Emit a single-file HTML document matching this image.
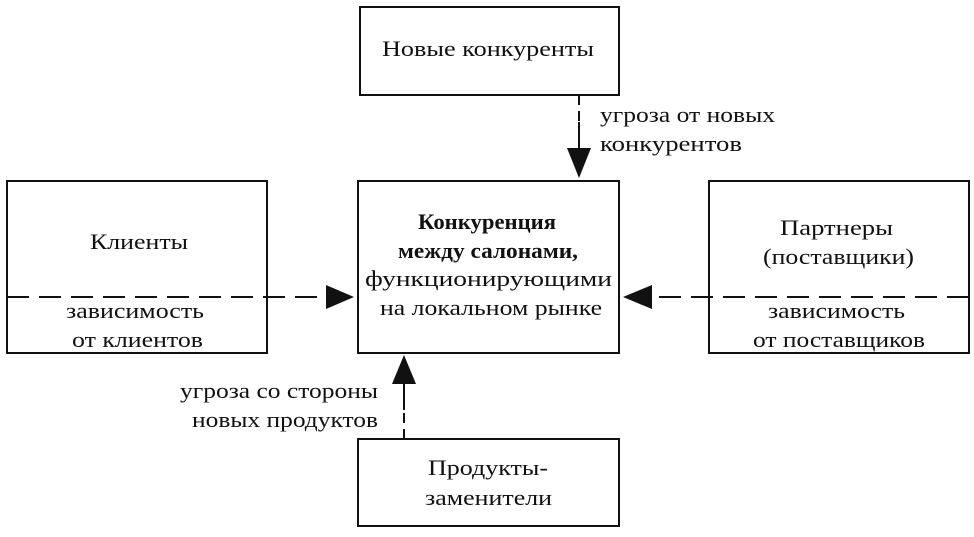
<!DOCTYPE html>
<html><head><meta charset="utf-8"><style>
html,body{margin:0;padding:0;background:#fff;}
svg text{font-family:"Liberation Serif","DejaVu Serif",serif;font-size:22px;fill:#111;}
</style></head><body>
<svg width="974" height="532" viewBox="0 0 974 532" xmlns="http://www.w3.org/2000/svg">
<g fill="none" stroke="#111" stroke-width="2">
<rect x="360" y="7" width="259" height="88"/>
<rect x="7" y="181" width="260" height="172"/>
<rect x="358" y="181" width="261" height="172"/>
<rect x="709" y="181" width="260" height="172"/>
<rect x="358" y="439" width="261" height="87"/>
<g stroke-dasharray="22,10">
<line x1="7" y1="297" x2="332" y2="297"/>
<line x1="969" y1="297" x2="648" y2="297"/>
</g>
<line x1="579" y1="95" x2="579" y2="122" stroke-dasharray="10,6"/>
<line x1="579" y1="122" x2="579" y2="155"/>
<line x1="404" y1="439" x2="404" y2="412" stroke-dasharray="10,6"/>
<line x1="404" y1="410" x2="404" y2="378"/>
</g>
<g fill="#111">
<polygon points="567,148 591,148 579,178"/>
<polygon points="392,384 416,384 404,355"/>
<polygon points="326,285 326,309 354,297"/>
<polygon points="652,285 652,309 623,297"/>
</g>
<g lengthAdjust="spacingAndGlyphs">
<text x="382" y="56" textLength="212" lengthAdjust="spacingAndGlyphs">Новые конкуренты</text>
<text x="600" y="122" textLength="175" lengthAdjust="spacingAndGlyphs">угроза от новых</text>
<text x="600" y="151" textLength="142" lengthAdjust="spacingAndGlyphs">конкурентов</text>
<text x="90" y="249" textLength="98" lengthAdjust="spacingAndGlyphs">Клиенты</text>
<text x="66" y="318" textLength="138" lengthAdjust="spacingAndGlyphs">зависимость</text>
<text x="72" y="347" textLength="131" lengthAdjust="spacingAndGlyphs">от клиентов</text>
<text x="418" y="229" textLength="138" lengthAdjust="spacingAndGlyphs" font-weight="bold">Конкуренция</text>
<text x="398" y="258" textLength="180" lengthAdjust="spacingAndGlyphs" font-weight="bold">между салонами,</text>
<text x="365" y="286" textLength="247" lengthAdjust="spacingAndGlyphs">функционирующими</text>
<text x="380" y="315" textLength="222" lengthAdjust="spacingAndGlyphs">на локальном рынке</text>
<text x="780" y="235" textLength="113" lengthAdjust="spacingAndGlyphs">Партнеры</text>
<text x="763" y="264" textLength="151" lengthAdjust="spacingAndGlyphs">(поставщики)</text>
<text x="768" y="318" textLength="137" lengthAdjust="spacingAndGlyphs">зависимость</text>
<text x="753" y="347" textLength="172" lengthAdjust="spacingAndGlyphs">от поставщиков</text>
<text x="180" y="398" textLength="198" lengthAdjust="spacingAndGlyphs">угроза со стороны</text>
<text x="192" y="427" textLength="186" lengthAdjust="spacingAndGlyphs">новых продуктов</text>
<text x="428" y="475" textLength="120" lengthAdjust="spacingAndGlyphs">Продукты-</text>
<text x="425" y="505" textLength="127" lengthAdjust="spacingAndGlyphs">заменители</text>
</g>
</svg>
</body></html>
